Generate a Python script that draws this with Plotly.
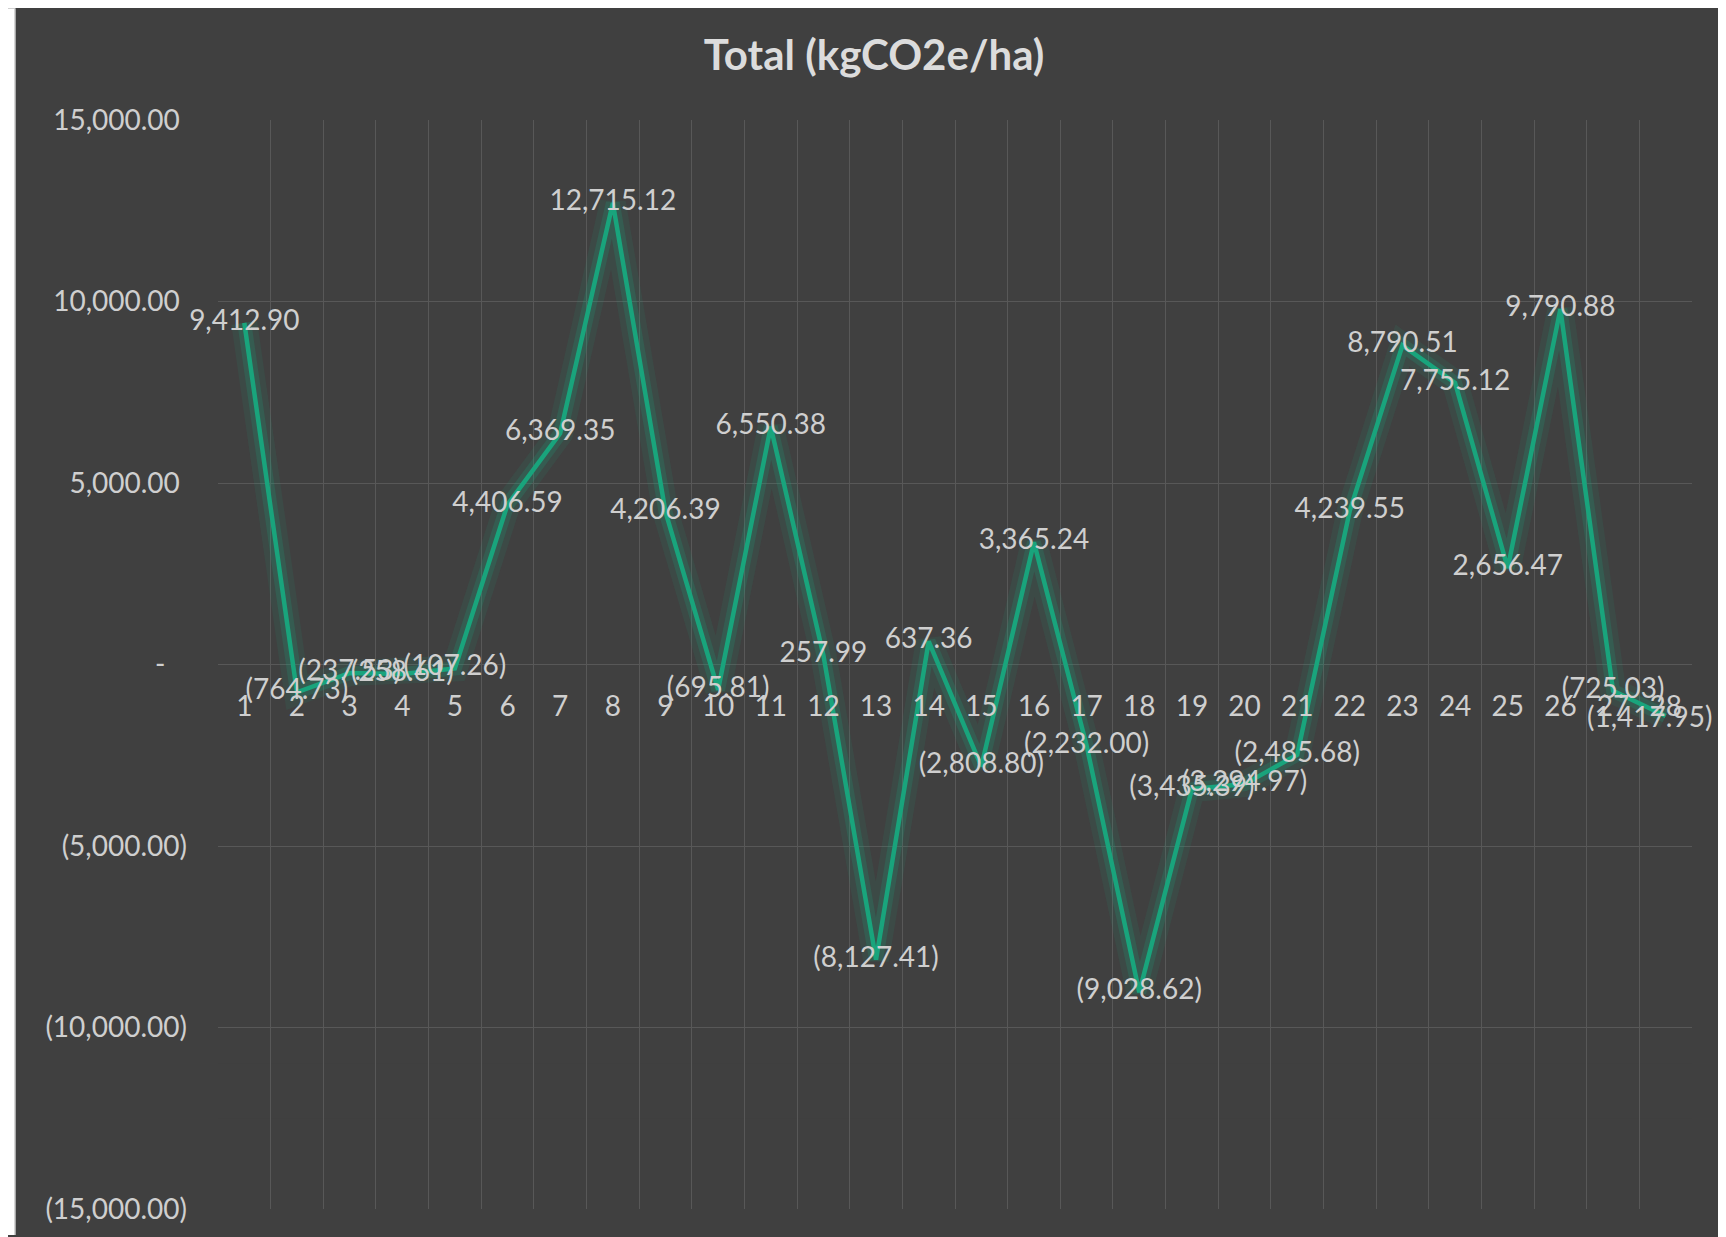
import plotly.graph_objects as go

# ---- data ----
categories = [str(i) for i in range(1, 29)]
totals = [9412.90, -764.73, -237.53, -258.61, -107.26, 4406.59, 6369.35, 12715.12,
          4206.39, -695.81, 6550.38, 257.99, -8127.41, 637.36, -2808.80, 3365.24,
          -2232.00, -9028.62, -3435.39, -3294.97, -2485.68, 4239.55, 8790.51, 7755.12,
          2656.47, 9790.88, -725.03, -1417.95]
y_tick_vals = [15000, 10000, 5000, 0, -5000, -10000, -15000]
title_text = "Total (kgCO2e/ha)"


def acct(v):
    if v < 0:
        return "({:,.2f})".format(-v)
    return "{:,.2f}".format(v)


def acct_tick(v):
    if v == 0:
        return "-\u00a0\u00a0\u00a0"
    if v < 0:
        return "({:,.2f})".format(-v)
    return "{:,.2f}\u00a0".format(v)


labels = [acct(v) for v in totals]
y_tick_text = [acct_tick(v) for v in y_tick_vals]

# figure sits inside the page's 8px body margin
W, H = 1718, 1229
ML, MR, MT, MB = 210, 34, 112, 26
PW, PH = W - ML - MR, H - MT - MB

BG = "#404040"
LINE = "#19a47c"
TXT = "#cfcfcf"
FONT = "Lato"

fig = go.Figure()

# glow underneath
fig.add_trace(go.Scatter(x=categories, y=totals, mode="lines",
                         line=dict(color="rgba(25,164,124,0.10)", width=26),
                         hoverinfo="skip", showlegend=False))
fig.add_trace(go.Scatter(x=categories, y=totals, mode="lines",
                         line=dict(color="rgba(25,164,124,0.20)", width=14),
                         hoverinfo="skip", showlegend=False))
# main line
fig.add_trace(go.Scatter(x=categories, y=totals, mode="lines",
                         line=dict(color=LINE, width=4.5),
                         showlegend=False))
# data labels centred on points (the last one is nudged inside the chart area below)
trace_labels = labels[:-1] + [""]
fig.add_trace(go.Scatter(x=categories, y=totals, mode="text", text=trace_labels,
                         textposition="middle center", cliponaxis=False,
                         textfont=dict(family=FONT, size=28, color=TXT),
                         hoverinfo="skip", showlegend=False))
last_idx = len(categories) - 1
fig.add_annotation(x=last_idx, y=totals[last_idx], xref="x", yref="y",
                   text=labels[last_idx], showarrow=False,
                   xanchor="right", yanchor="middle", xshift=48,
                   font=dict(family=FONT, size=28, color=TXT))


def px_x(p):
    return (p - ML) / PW


def px_y(p):
    return (H - MB - p) / PH


shapes = []
# fade of gridlines towards the bottom
for y0, y1, op in [(-4000, -7500, 0.25), (-7500, -9500, 0.5),
                   (-9500, -11000, 0.75), (-11000, -12500, 0.9),
                   (-12500, -15000, 1.0)]:
    shapes.append(dict(type="rect", xref="paper", yref="y", x0=0, x1=1.0,
                       y0=y0, y1=y1, fillcolor=BG, opacity=op, line_width=0,
                       layer="between"))
# white page edges around the chart area
shapes.append(dict(type="rect", xref="paper", yref="paper", x0=px_x(0), x1=px_x(7),
                   y0=px_y(H), y1=px_y(0), fillcolor="white", line_width=0, layer="above"))
shapes.append(dict(type="line", xref="paper", yref="paper", x0=px_x(7), x1=px_x(7),
                   y0=px_y(H), y1=px_y(0), line=dict(color="#c8c8c8", width=1.5), layer="above"))
shapes.append(dict(type="rect", xref="paper", yref="paper", x0=px_x(1714), x1=px_x(W),
                   y0=px_y(H), y1=px_y(0), fillcolor="white", line_width=0, layer="above"))
shapes.append(dict(type="line", xref="paper", yref="paper", x0=px_x(1713.5), x1=px_x(1713.5),
                   y0=px_y(H), y1=px_y(0), line=dict(color="#c8c8c8", width=1.5), layer="above"))

fig.update_layout(
    width=W, height=H,
    margin=dict(l=ML, r=MR, t=MT, b=MB, pad=0),
    paper_bgcolor=BG, plot_bgcolor=BG,
    font=dict(family=FONT, size=28, color=TXT),
    title=dict(text="<b>" + title_text + "</b>", x=866 / W, xref="container",
               y=1 - 47 / H, yref="container", xanchor="center", yanchor="middle",
               font=dict(family=FONT, size=42, color="#dcdcdc")),
    xaxis=dict(type="category", categoryorder="array", categoryarray=categories,
               range=[-0.5, len(categories) - 0.5],
               tickson="boundaries", showgrid=True, gridcolor="#585858", gridwidth=1.3,
               showline=False, zeroline=False, ticks="",
               anchor="free", position=0.5, side="bottom",
               ticklabelstandoff=22,
               tickfont=dict(family=FONT, size=28, color=TXT)),
    yaxis=dict(range=[-15000, 15000], tickvals=y_tick_vals, ticktext=y_tick_text,
               showgrid=True, gridcolor="#585858", gridwidth=1.3, zeroline=False,
               showline=False, ticks="", ticklabelstandoff=30,
               tickfont=dict(family=FONT, size=28, color=TXT)),
    shapes=shapes,
    showlegend=False,
)

fig.write_html("out.html")
